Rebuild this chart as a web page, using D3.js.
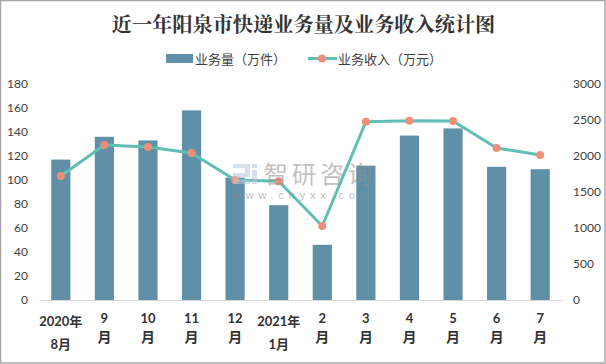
<!DOCTYPE html>
<html>
<head>
<meta charset="utf-8">
<script src="https://cdn.jsdelivr.net/npm/d3@7"></script>
<style>
html, body {margin: 0; padding: 0; background: #fff;}
svg {display: block;}
text {font-family: "Lato", "Noto Sans CJK SC", sans-serif;}
</style>
</head>
<body>
<script>
const width = 606;
const height = 364;

var months = ["2020年8月", "9月", "10月", "11月", "12月", "2021年1月", "2月", "3月", "4月", "5月", "6月", "7月"];
var labelTop = ["2020年", "9", "10", "11", "12", "2021年", "2", "3", "4", "5", "6", "7"];
var labelBottom = ["8月", "月", "月", "月", "月", "1月", "月", "月", "月", "月", "月", "月"];
var volume = [117, 136, 133, 158, 102, 79, 46, 112, 137, 143, 111, 109];
var revenue = [1722, 2153, 2125, 2042, 1667, 1650, 1028, 2476, 2490, 2486, 2111, 2014];
var leftTicks = [0, 20, 40, 60, 80, 100, 120, 140, 160, 180];
var rightTicks = [0, 500, 1000, 1500, 2000, 2500, 3000];

const barColor = "#5f90a8";
const lineColor = "#5fbfb5";
const dotColor = "#ee9079";
const textColor = "#404040";

var xScale = d3.scaleBand()
    .domain(months)
    .range([39, 562])
    .paddingInner(0.56)
    .paddingOuter(0.28);

var yLeft = d3.scaleLinear().domain([0, 180]).range([300, 84]);
var yRight = d3.scaleLinear().domain([0, 3000]).range([300, 84]);

var center = function(m) {return xScale(m) + xScale.bandwidth() / 2;};

var svg = d3.select("body")
    .append("svg")
    .attr("width", width)
    .attr("height", height);

// outer frame
svg.append("rect")
    .attr("x", 0.5)
    .attr("y", 0.5)
    .attr("width", width - 1.5)
    .attr("height", height - 1.5)
    .attr("fill", "#fff")
    .attr("stroke", "#a6a6a6")
    .attr("stroke-width", 1.5);

svg.append("text")
    .attr("x", 303.5)
    .attr("y", 32)
    .attr("text-anchor", "middle")
    .style("font-family", "'Noto Serif CJK SC', 'Noto Sans CJK SC', serif")
    .style("font-size", "20.2px")
    .style("font-weight", "bold")
    .attr("fill", "#333")
    .text("近一年阳泉市快递业务量及业务收入统计图");

// legend
var legend = svg.append("g");
legend.append("rect")
    .attr("x", 166)
    .attr("y", 54)
    .attr("width", 27)
    .attr("height", 9)
    .attr("fill", barColor);
legend.append("text")
    .attr("x", 195)
    .attr("y", 64)
    .style("font-size", "13px")
    .style("font-family", "'Noto Sans CJK SC'")
    .attr("fill", textColor)
    .text("业务量（万件）");
legend.append("line")
    .attr("x1", 308)
    .attr("x2", 337)
    .attr("y1", 58.5)
    .attr("y2", 58.5)
    .attr("stroke", lineColor)
    .attr("stroke-width", 3);
legend.append("circle")
    .attr("cx", 322)
    .attr("cy", 58.5)
    .attr("r", 4)
    .attr("fill", dotColor);
legend.append("text")
    .attr("x", 338)
    .attr("y", 64)
    .style("font-size", "13px")
    .style("font-family", "'Noto Sans CJK SC'")
    .attr("fill", textColor)
    .text("业务收入（万元）");

// bars
svg.selectAll("rect.bar")
    .data(volume)
    .enter()
    .append("rect")
    .attr("class", "bar")
    .attr("x", function(d, i) {return xScale(months[i]);})
    .attr("y", function(d) {return yLeft(d);})
    .attr("width", xScale.bandwidth())
    .attr("height", function(d) {return yLeft(0) - yLeft(d);})
    .attr("fill", barColor);

// axes
var gLeft = svg.append("g")
    .attr("transform", "translate(39,0)")
    .call(d3.axisLeft(yLeft).tickValues(leftTicks).tickSize(0).tickPadding(11));
var gRight = svg.append("g")
    .attr("transform", "translate(562,0)")
    .call(d3.axisRight(yRight).tickValues(rightTicks).tickFormat(d3.format("d")).tickSize(0).tickPadding(11));
gLeft.select(".domain").remove();
gRight.select(".domain").remove();
svg.selectAll("g .tick text")
    .style("font-family", "Lato")
    .style("font-size", "12px")
    .attr("fill", textColor);

var gBottom = svg.append("g")
    .attr("transform", "translate(0,300)")
    .call(d3.axisBottom(xScale).tickSize(0).tickFormat(""));
gBottom.select(".domain")
    .attr("stroke", "#d9d9d9")
    .attr("stroke-width", 1);

gBottom.selectAll(".tick text").remove();
gBottom.selectAll(".tick").each(function(m, i) {
    var two = labelBottom[i].length > 1;
    var t = d3.select(this);
    t.append("text")
        .attr("y", two ? 26 : 23)
        .attr("text-anchor", "middle")
        .attr("fill", "#333")
        .style("font-family", "'Lato', 'Noto Sans CJK SC'")
        .style("font-size", "13px")
        .style("font-weight", "bold")
        .text(labelTop[i]);
    t.append("text")
        .attr("y", two ? 49 : 42)
        .attr("text-anchor", "middle")
        .attr("fill", "#333")
        .style("font-family", "'Lato', 'Noto Sans CJK SC'")
        .style("font-size", two ? "13px" : "14px")
        .style("font-weight", "bold")
        .text(labelBottom[i]);
});

// revenue line
var line = d3.line()
    .x(function(d, i) {return center(months[i]);})
    .y(function(d) {return yRight(d);});

svg.append("path")
    .datum(revenue)
    .attr("d", line)
    .attr("fill", "none")
    .attr("stroke", lineColor)
    .attr("stroke-width", 3)
    .attr("stroke-linejoin", "round");

svg.selectAll("circle.dot")
    .data(revenue)
    .enter()
    .append("circle")
    .attr("class", "dot")
    .attr("cx", function(d, i) {return center(months[i]);})
    .attr("cy", function(d) {return yRight(d);})
    .attr("r", 4)
    .attr("fill", dotColor);

// watermark
var mark = svg.append("g").attr("opacity", 0.55);
mark.append("path")
    .attr("d", "M233,164h17v13h-12v3h12v4h-17v-11h12v-5h-12z M252,164h5v4h-5z M252,170h5v14h-5z")
    .attr("fill", "#b4c6e0");
mark.append("text")
    .attr("x", 264)
    .attr("y", 183)
    .style("font-family", "'Noto Sans CJK SC'")
    .style("font-size", "24px")
    .style("letter-spacing", "4px")
    .attr("fill", "#8f8f8f")
    .text("智研咨询");
mark.append("text")
    .attr("x", 233)
    .attr("y", 199)
    .style("font-family", "'Liberation Sans'")
    .style("font-size", "11px")
    .style("letter-spacing", "4.8px")
    .attr("fill", "#8f8f8f")
    .text("www.chyxx.com");
</script>
</body>
</html>
